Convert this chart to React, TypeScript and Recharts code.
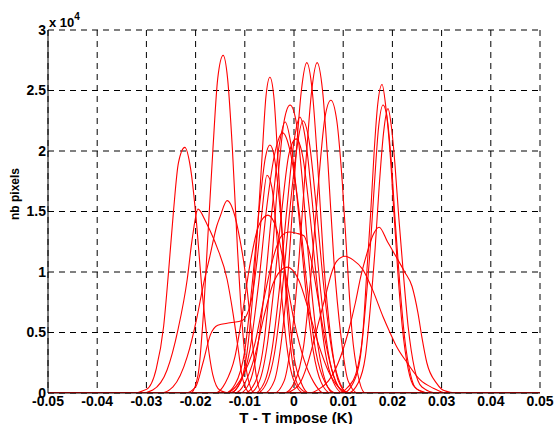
import React from 'react';
import { LineChart, Line, XAxis, YAxis, CartesianGrid } from 'recharts';

// x ticks (K) and y ticks (pixel counts)
const xTicks = [-0.05, -0.04, -0.03, -0.02, -0.01, 0, 0.01, 0.02, 0.03, 0.04, 0.05];
const yTicks = [0, 5000, 10000, 15000, 20000, 25000, 30000];

// one histogram per acquisition, [T - T impose, nb pixels]
const curveA = [[-0.05, 0], [-0.033, 0], [-0.03, 300], [-0.028, 2000], [-0.0265, 5500], [-0.0255, 10000], [-0.0245, 15000], [-0.0235, 19000], [-0.0222, 20300], [-0.021, 18500], [-0.0198, 14000], [-0.0188, 9000], [-0.0178, 5000], [-0.0165, 1500], [-0.015, 200], [-0.013, 0], [0.05, 0]];
const curveB = [[-0.05, 0], [-0.021, 0], [-0.0195, 1500], [-0.0185, 6000], [-0.0175, 13000], [-0.0165, 20000], [-0.0155, 26000], [-0.0144, 27900], [-0.0135, 26000], [-0.0125, 20000], [-0.0115, 12000], [-0.0105, 5500], [-0.0095, 1500], [-0.008, 0], [0.05, 0]];
const curveC = [[-0.05, 0], [-0.031, 0], [-0.0287, 250], [-0.0258, 1900], [-0.0236, 5200], [-0.0217, 9400], [-0.0207, 12700], [-0.0195, 15200], [-0.0181, 14300], [-0.0175, 13800], [-0.0157, 12100], [-0.0136, 9400], [-0.0124, 6600], [-0.0114, 3800], [-0.0104, 1100], [-0.0089, 0], [0.05, 0]];
const curveD = [[-0.05, 0], [-0.027, 0], [-0.0246, 500], [-0.0217, 3000], [-0.0197, 6300], [-0.0185, 8800], [-0.0171, 11300], [-0.0157, 13800], [-0.015, 14600], [-0.0136, 15900], [-0.012, 14600], [-0.011, 12700], [-0.01, 10200], [-0.0093, 7700], [-0.0085, 4400], [-0.0077, 1500], [-0.0065, 0], [0.05, 0]];
const curveE = [[-0.05, 0], [-0.022, 0], [-0.02, 500], [-0.0185, 2500], [-0.017, 4800], [-0.0155, 5600], [-0.013, 5800], [-0.0105, 6000], [-0.0085, 8000], [-0.0075, 11000], [-0.0065, 15000], [-0.0055, 18000], [-0.0045, 17000], [-0.0035, 13000], [-0.0025, 8000], [-0.0015, 4000], [0, 1000], [0.002, 0], [0.05, 0]];
const curveF = [[-0.05, 0], [-0.013, 0], [-0.011, 800], [-0.0095, 3500], [-0.0085, 7500], [-0.0075, 13000], [-0.0065, 19500], [-0.0057, 24500], [-0.0049, 26100], [-0.0041, 24500], [-0.0033, 19500], [-0.0023, 12500], [-0.0013, 6500], [-0.0003, 2500], [0.001, 500], [0.003, 0], [0.05, 0]];
const curveG = [[-0.05, 0], [-0.014, 0], [-0.012, 700], [-0.01, 3500], [-0.0085, 9000], [-0.007, 15500], [-0.0058, 19500], [-0.0049, 20500], [-0.004, 19500], [-0.003, 16000], [-0.002, 11000], [-0.001, 6500], [0, 3000], [0.0015, 800], [0.003, 0], [0.05, 0]];
const curveI = [[-0.05, 0], [-0.01, 0], [-0.008, 800], [-0.006, 4500], [-0.0045, 11000], [-0.0032, 18000], [-0.002, 22500], [-0.0008, 23800], [0.0004, 22500], [0.0016, 18000], [0.003, 11000], [0.0045, 5000], [0.006, 1500], [0.008, 0], [0.05, 0]];
const curveJ = [[-0.05, 0], [-0.006, 0], [-0.004, 1000], [-0.0025, 4500], [-0.001, 11000], [0.0003, 19000], [0.0015, 25000], [0.0026, 27300], [0.0037, 25000], [0.0048, 19000], [0.006, 11000], [0.0075, 4500], [0.009, 1000], [0.011, 0], [0.05, 0]];
const curveK = [[-0.05, 0], [-0.004, 0], [-0.002, 1000], [-0.0005, 4500], [0.001, 11000], [0.0024, 19000], [0.0036, 25000], [0.0047, 27300], [0.0058, 25000], [0.0069, 19000], [0.0081, 11000], [0.0096, 4500], [0.011, 1000], [0.013, 0], [0.05, 0]];
const curveL = [[-0.05, 0], [-0.002, 0], [0, 800], [0.002, 4000], [0.0035, 10000], [0.005, 17500], [0.0063, 22800], [0.0075, 24200], [0.0087, 22500], [0.0098, 17500], [0.0108, 11000], [0.0118, 5000], [0.013, 1500], [0.0145, 0], [0.05, 0]];
const curveM = [[-0.05, 0], [-0.011, 0], [-0.009, 900], [-0.0075, 3500], [-0.006, 8500], [-0.0045, 15000], [-0.003, 20500], [-0.0018, 22400], [-0.0006, 20500], [0.0009, 15000], [0.0024, 8500], [0.0039, 3500], [0.0055, 900], [0.0075, 0], [0.05, 0]];
const curveN = [[-0.05, 0], [-0.013, 0], [-0.011, 800], [-0.009, 3500], [-0.0072, 9000], [-0.0055, 15500], [-0.0038, 20000], [-0.0023, 21500], [-0.0008, 20000], [0.0009, 15500], [0.0026, 9000], [0.0044, 3500], [0.0064, 800], [0.0085, 0], [0.05, 0]];
const curveO = [[-0.05, 0], [-0.008, 0], [-0.006, 900], [-0.0045, 3500], [-0.003, 8500], [-0.0015, 15000], [0, 20800], [0.0012, 22800], [0.0024, 20800], [0.0039, 15000], [0.0054, 8500], [0.0069, 3500], [0.0085, 900], [0.0105, 0], [0.05, 0]];
const curveP = [[-0.05, 0], [-0.0075, 0], [-0.0055, 900], [-0.004, 3200], [-0.0025, 8000], [-0.001, 14500], [0.0005, 20000], [0.0018, 22500], [0.003, 21000], [0.0045, 15500], [0.006, 9000], [0.0075, 4000], [0.009, 1200], [0.011, 0], [0.05, 0]];
const curveQ = [[-0.05, 0], [-0.009, 0], [-0.007, 1000], [-0.0055, 3800], [-0.004, 9000], [-0.0025, 15000], [-0.001, 19800], [0.0004, 21000], [0.0018, 19500], [0.0033, 14500], [0.0048, 8500], [0.0063, 3500], [0.008, 900], [0.01, 0], [0.05, 0]];
const curveR = [[-0.05, 0], [-0.012, 0], [-0.01, 800], [-0.008, 3000], [-0.006, 6500], [-0.004, 9300], [-0.0014, 10400], [0.001, 9300], [0.003, 6800], [0.005, 4000], [0.007, 1800], [0.009, 500], [0.011, 0], [0.05, 0]];
const curveS = [[-0.05, 0], [-0.014, 0], [-0.011, 1000], [-0.008, 4000], [-0.006, 8000], [-0.004, 11500], [-0.0025, 13000], [-0.001, 13300], [0.0005, 13200], [0.002, 13000], [0.0035, 11000], [0.005, 7500], [0.0065, 4000], [0.008, 1500], [0.0095, 300], [0.012, 0], [0.05, 0]];
const curveT = [[-0.05, 0], [-0.016, 0], [-0.014, 800], [-0.012, 3000], [-0.0105, 6500], [-0.009, 10500], [-0.0072, 13800], [-0.0053, 14700], [-0.0035, 13500], [-0.0018, 10000], [0, 6000], [0.002, 2800], [0.004, 900], [0.006, 0], [0.05, 0]];
const curveU = [[-0.05, 0], [0.009, 0], [0.011, 500], [0.0125, 1500], [0.014, 5000], [0.0148, 10000], [0.0156, 15000], [0.0163, 20000], [0.017, 23800], [0.0179, 25500], [0.0187, 23500], [0.0195, 20000], [0.0203, 15000], [0.0211, 10000], [0.022, 5500], [0.0232, 2000], [0.0245, 500], [0.027, 0], [0.05, 0]];
const curveV = [[-0.05, 0], [0.01, 0], [0.012, 800], [0.0135, 3000], [0.0145, 7000], [0.0155, 12000], [0.0163, 17000], [0.0172, 22000], [0.0181, 23800], [0.019, 22500], [0.0198, 19000], [0.0206, 14000], [0.0215, 9000], [0.0225, 4500], [0.0237, 1500], [0.025, 300], [0.028, 0], [0.05, 0]];
const curveW = [[-0.05, 0], [0.011, 0], [0.013, 800], [0.0145, 3000], [0.0155, 7000], [0.0165, 12000], [0.0173, 17000], [0.0182, 21500], [0.0191, 23500], [0.0198, 22000], [0.0205, 19000], [0.0213, 14500], [0.0222, 10000], [0.0232, 5500], [0.0245, 2000], [0.026, 500], [0.029, 0], [0.05, 0]];
const curveX = [[-0.05, 0], [0.003, 0], [0.005, 300], [0.007, 1000], [0.009, 2500], [0.011, 5000], [0.0125, 7500], [0.0135, 9500], [0.0148, 11500], [0.016, 13000], [0.0173, 13700], [0.019, 12500], [0.0207, 11300], [0.0225, 10000], [0.024, 8800], [0.0252, 6600], [0.026, 4600], [0.027, 2500], [0.029, 800], [0.0305, 200], [0.033, 0], [0.05, 0]];
const curveY = [[-0.05, 0], [-0.002, 0], [0, 300], [0.0012, 800], [0.0026, 2200], [0.0039, 4100], [0.0053, 6300], [0.0067, 8500], [0.0077, 10000], [0.0087, 10900], [0.0104, 11300], [0.012, 11000], [0.014, 10200], [0.016, 8500], [0.0181, 6300], [0.0195, 5000], [0.0209, 3800], [0.023, 2500], [0.0256, 1100], [0.0283, 400], [0.031, 0], [0.05, 0]];

const curves = [curveA, curveB, curveC, curveD, curveE, curveF, curveG, curveI, curveJ, curveK, curveL, curveM, curveN, curveO, curveP, curveQ, curveR, curveS, curveT, curveU, curveV, curveW, curveX, curveY];

const font = '"Liberation Sans", Arial, sans-serif';
const tickStyle = { fill: '#000', fontSize: 14, fontWeight: 'bold' as const, fontFamily: font };

const App: React.FC = () => {
    return (
        <div style={{ position: 'absolute', left: 0, top: 0, width: 558, height: 424, background: '#fff', fontFamily: font, overflow: 'hidden' }}>
            <LineChart width={558} height={424} margin={{ top: 30, right: 18, left: 0, bottom: 0 }}>
                <CartesianGrid stroke="#000" strokeDasharray="6 5" />
                <XAxis
                    type="number"
                    dataKey="x"
                    domain={[-0.05, 0.05]}
                    ticks={xTicks}
                    tickFormatter={(v: number) => String(Number(v.toFixed(2)))}
                    tick={tickStyle}
                    tickLine={false}
                    tickSize={0}
                    tickMargin={3}
                    axisLine={{ stroke: '#000' }}
                    height={31}
                    allowDataOverflow
                />
                <YAxis
                    type="number"
                    domain={[0, 30000]}
                    ticks={yTicks}
                    tickFormatter={(v: number) => String(v / 10000)}
                    tick={tickStyle}
                    tickLine={false}
                    tickSize={0}
                    tickMargin={2}
                    axisLine={{ stroke: '#000' }}
                    width={48}
                    allowDataOverflow
                />
                {curves.map((c, i) => (
                    <Line
                        key={i}
                        data={c.map(([x, y]) => ({ x, y }))}
                        dataKey="y"
                        type="monotone"
                        stroke="#ff0000"
                        strokeWidth={1.1}
                        dot={false}
                        activeDot={false}
                        isAnimationActive={false}
                    />
                ))}
            </LineChart>
            <div style={{ position: 'absolute', left: 49, top: 15, fontSize: 13, fontWeight: 'bold', lineHeight: '15px' }}>
                x 10<span style={{ position: 'relative', top: -7, fontSize: 10 }}>4</span>
            </div>
            <div style={{ position: 'absolute', left: 15, top: 194, fontSize: 12, fontWeight: 'bold', whiteSpace: 'nowrap', transform: 'translate(-50%, -50%) rotate(-90deg)' }}>
                nb pixels
            </div>
            <div style={{ position: 'absolute', left: 296, top: 409, fontSize: 15, fontWeight: 'bold', whiteSpace: 'nowrap', transform: 'translateX(-50%)' }}>
                T - T impose (K)
            </div>
        </div>
    );
};

export default App;
